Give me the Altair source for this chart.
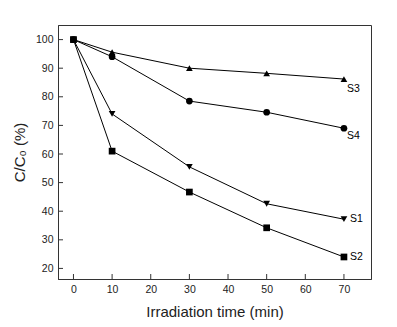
import altair as alt
import pandas as pd

times = [0, 10, 30, 50, 70]
s1 = [100, 74, 55.5, 42.6, 37.2]
s2 = [100, 61, 46.7, 34.2, 24]
s3 = [100, 95.6, 90, 88.2, 86.2]
s4 = [100, 94, 78.5, 74.6, 69]
series = ["S1", "S2", "S3", "S4"]
shapes = ["triangle-down", "square", "triangle-up", "circle"]
x_ticks = [0, 10, 20, 30, 40, 50, 60, 70]
y_ticks = [20, 30, 40, 50, 60, 70, 80, 90, 100]

rows = []
for name, vals in zip(series, [s1, s2, s3, s4]):
    for t, v in zip(times, vals):
        rows.append({"time": t, "value": v, "series": name})
df = pd.DataFrame(rows)
last = df[df["time"] == times[-1]]
xt = pd.DataFrame({"time": x_ticks})
yt = pd.DataFrame({"value": y_ticks})

W, H = 313, 254
FONT = "Liberation Sans"
xs = alt.Scale(domain=[-4, 77], nice=False, zero=False)
ys = alt.Scale(domain=[16.3, 105.1], nice=False, zero=False)
x_axis = alt.Axis(values=x_ticks, title="Irradiation time (min)", grid=False, ticks=False,
                  labelOverlap=False)
y_axis = alt.Axis(values=y_ticks, title="C/C₀ (%)", grid=False, ticks=False,
                  labelOverlap=False)
x = alt.X("time:Q", scale=xs, axis=x_axis)
y = alt.Y("value:Q", scale=ys, axis=y_axis)

lines = alt.Chart(df).mark_line(color="black", strokeWidth=1).encode(
    x=x, y=y, detail="series:N")
points = alt.Chart(df).mark_point(filled=True, color="black", opacity=1, size=45).encode(
    x=x, y=y,
    shape=alt.Shape("series:N", scale=alt.Scale(domain=series, range=shapes), legend=None))

xticks = alt.Chart(xt).mark_rule(color="#333333", strokeWidth=1).encode(
    x=x, y=alt.value(H), y2=alt.value(H - 5))
yticks = alt.Chart(yt).mark_rule(color="#333333", strokeWidth=1).encode(
    y=y, x=alt.value(0), x2=alt.value(5))

label_dx = {"S1": 6, "S2": 6, "S3": 3, "S4": 3}
label_dy = {"S1": 0, "S2": 0, "S3": 10, "S4": 8}
texts = []
for name in series:
    texts.append(
        alt.Chart(last[last["series"] == name]).mark_text(
            align="left", baseline="middle", font=FONT, fontSize=10.5, color="black",
            dx=label_dx[name], dy=label_dy[name]).encode(x=x, y=y, text="series:N"))

chart = alt.layer(lines, xticks, yticks, points, *texts).properties(
    width=W, height=H,
    padding={"left": 58, "top": 25, "right": 26, "bottom": 48},
    autosize=alt.AutoSizeParams(type="none"),
).configure_view(
    stroke="#333333", strokeWidth=1
).configure_axis(
    domainColor="#333333", labelFont=FONT, titleFont=FONT,
    labelFontSize=10.5, labelColor="#222222", titleColor="#222222", titleFontWeight="normal",
    labelPadding=5,
).configure_axisX(
    titleFontSize=15, titlePadding=10
).configure_axisY(
    titleFontSize=15, titlePadding=8
)

chart.save("out.html", embed_options={"renderer": "svg", "actions": False})
